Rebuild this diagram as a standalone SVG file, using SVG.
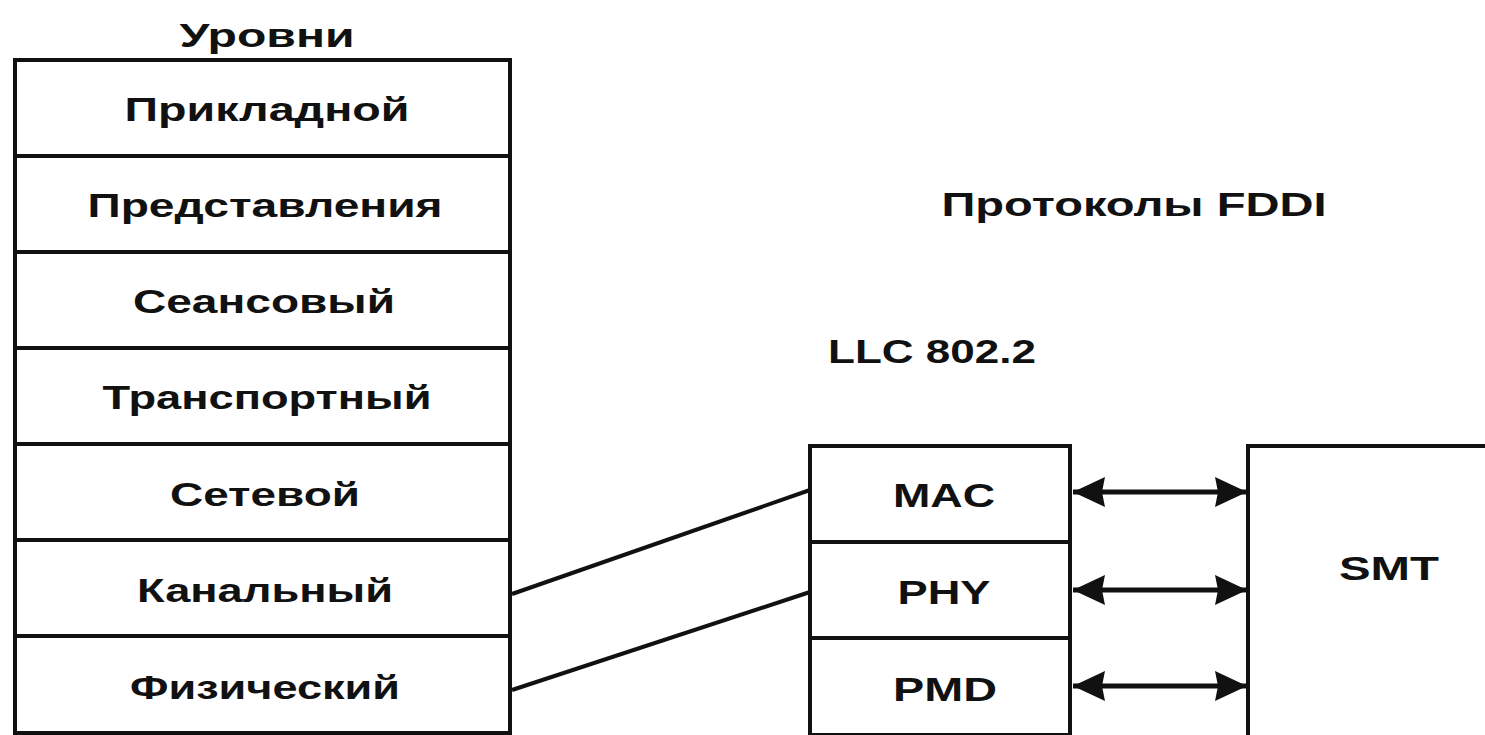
<svg xmlns="http://www.w3.org/2000/svg" width="1485" height="735" viewBox="0 0 1485 735">
<style>
.box{fill:#fff;stroke:#111;stroke-width:4}
.t{font-family:"Liberation Sans",Arial,sans-serif;font-weight:bold;font-size:34px;fill:#111;text-anchor:middle}
.c{stroke:#111;stroke-width:4;fill:none}
.a{stroke:#111;stroke-width:5;fill:none}
</style>
<defs>
<marker id="ah" markerWidth="32" markerHeight="32" refX="32" refY="16" orient="auto-start-reverse" markerUnits="userSpaceOnUse" viewBox="0 0 32 32">
<path d="M0,1 L32,16 L0,31 L3,16 z" fill="#111"/>
</marker>
</defs>
<rect width="1485" height="735" fill="#fff"/>
<text class="t" x="267" y="47" textLength="175" lengthAdjust="spacingAndGlyphs">Уровни</text>
<g id="osi">
<g id="l7"><rect class="box" x="15" y="60" width="495" height="96"/><text class="t" x="267" y="121" textLength="285" lengthAdjust="spacingAndGlyphs">Прикладной</text></g>
<g id="l6"><rect class="box" x="15" y="156" width="495" height="96"/><text class="t" x="265" y="217" textLength="355" lengthAdjust="spacingAndGlyphs">Представления</text></g>
<g id="l5"><rect class="box" x="15" y="252" width="495" height="96"/><text class="t" x="264" y="313" textLength="262" lengthAdjust="spacingAndGlyphs">Сеансовый</text></g>
<g id="l4"><rect class="box" x="15" y="348" width="495" height="96"/><text class="t" x="267" y="409" textLength="329" lengthAdjust="spacingAndGlyphs">Транспортный</text></g>
<g id="l3"><rect class="box" x="15" y="444" width="495" height="96"/><text class="t" x="265" y="506" textLength="190" lengthAdjust="spacingAndGlyphs">Сетевой</text></g>
<g id="l2"><rect class="box" x="15" y="540" width="495" height="96"/><text class="t" x="265" y="602" textLength="256" lengthAdjust="spacingAndGlyphs">Канальный</text></g>
<g id="l1"><rect class="box" x="15" y="636" width="495" height="97"/><text class="t" x="265" y="699" textLength="270" lengthAdjust="spacingAndGlyphs">Физический</text></g>
</g>
<text class="t" x="1134" y="216" textLength="385" lengthAdjust="spacingAndGlyphs">Протоколы FDDI</text>
<text class="t" x="932" y="363" textLength="208" lengthAdjust="spacingAndGlyphs">LLC 802.2</text>
<g id="mac"><rect class="box" x="810" y="446" width="260" height="96"/><text class="t" x="944" y="507" textLength="102" lengthAdjust="spacingAndGlyphs">MAC</text></g>
<g id="phy"><rect class="box" x="810" y="542" width="260" height="96"/><text class="t" x="944" y="604" textLength="93" lengthAdjust="spacingAndGlyphs">PHY</text></g>
<g id="pmd"><rect class="box" x="810" y="638" width="260" height="97"/><text class="t" x="945" y="701" textLength="104" lengthAdjust="spacingAndGlyphs">PMD</text></g>
<g id="smt"><rect class="box" x="1248" y="446" width="245" height="295"/><text class="t" x="1389" y="580" textLength="100" lengthAdjust="spacingAndGlyphs">SMT</text></g>
<g id="connectors">
<line class="c" x1="512" y1="594" x2="810" y2="490"/>
<line class="c" x1="512" y1="690" x2="810" y2="592"/>
<line class="a" x1="1073" y1="492" x2="1247" y2="492" marker-start="url(#ah)" marker-end="url(#ah)"/>
<line class="a" x1="1073" y1="590" x2="1247" y2="590" marker-start="url(#ah)" marker-end="url(#ah)"/>
<line class="a" x1="1073" y1="686" x2="1247" y2="686" marker-start="url(#ah)" marker-end="url(#ah)"/>
</g>
</svg>
